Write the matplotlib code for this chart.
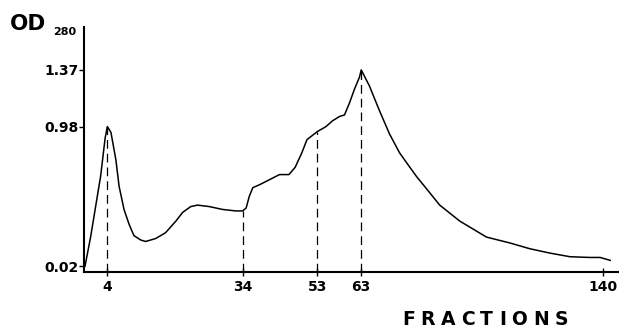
import matplotlib
matplotlib.use("Agg")
import matplotlib.pyplot as plt
import numpy as np

# elution profile
fractions = [0.0, 1.0, 1.9, 2.8, 3.6, 4.0, 4.8, 5.9, 6.6, 7.7, 8.8, 9.9, 11.4, 12.5,
             14.7, 16.9, 19.2, 20.7, 22.5, 24.0, 26.6, 29.6, 32.5, 34.0, 34.9, 35.7,
             36.6, 38.3, 40.5, 43.4, 45.8, 47.4, 49.1, 50.4, 53.0, 55.0, 56.5, 58.1,
             59.2, 60.3, 61.5, 62.6, 63.0, 65.6, 68.8, 72.0, 75.2, 78.0, 80.5, 83.7,
             88.0, 94.4, 102.9, 110.3, 116.7, 123.1, 129.5, 135.9, 139.1, 142.3]
od280 = [0.02, 0.22, 0.43, 0.64, 0.90, 0.98, 0.94, 0.75, 0.57, 0.41, 0.31, 0.23, 0.20, 0.19,
         0.21, 0.25, 0.33, 0.39, 0.43, 0.44, 0.43, 0.41, 0.40, 0.40, 0.42, 0.50,
         0.56, 0.58, 0.61, 0.65, 0.65, 0.70, 0.80, 0.89, 0.945, 0.98, 1.02, 1.05,
         1.06, 1.14, 1.24, 1.32, 1.37, 1.26, 1.09, 0.93, 0.80, 0.715, 0.64, 0.555,
         0.44, 0.33, 0.22, 0.18, 0.14, 0.11, 0.085, 0.08, 0.08, 0.06]

marked_fractions = [4, 34, 53, 63]
x_ticks = [4, 34, 53, 63, 140]
y_ticks = [0.02, 0.98, 1.37]
y_tick_labels = ["0.02", "0.98", "1.37"]

# the original fraction axis is not evenly spaced: piecewise linear scale
knot_frac = [-5, 0, 4, 34, 53, 63, 140, 160]
knot_pos = [58.1, 86, 108.3, 243.3, 317.7, 361.7, 603, 665.7]

def fwd(x):
    return np.interp(x, knot_frac, knot_pos)

def inv(p):
    return np.interp(p, knot_pos, knot_frac)

W, H = 619, 328
fig = plt.figure(figsize=(W / 100, H / 100), dpi=100)
ax = fig.add_axes([84 / W, 1 - 272 / H, 1 - 84 / W, (272 - 27) / H])
ax.set_xscale("function", functions=(fwd, inv))

ax.plot(fractions, od280, color="black", lw=1.1)

ymin = -0.02
for f in marked_fractions:
    ax.vlines(f, ymin, np.interp(f, fractions, od280), colors="black",
              linestyles=(0, (7, 4)), lw=0.9)

ax.set_xlim(-0.18, 145.1)
ax.set_ylim(ymin, 1.665)

ax.spines["top"].set_visible(False)
ax.spines["right"].set_visible(False)
ax.spines["left"].set_linewidth(1.5)
ax.spines["bottom"].set_linewidth(1.5)

ax.set_xticks(x_ticks)
ax.set_xticklabels([str(t) for t in x_ticks])
ax.set_yticks(y_ticks)
ax.set_yticklabels(y_tick_labels)
ax.xaxis.set_minor_locator(matplotlib.ticker.NullLocator())
ax.tick_params(axis="x", direction="inout", length=6, width=1, pad=2.5, labelsize=10)
ax.tick_params(axis="y", direction="out", length=3.5, width=1, pad=0.5, labelsize=10)
for lab in ax.get_xticklabels() + ax.get_yticklabels():
    lab.set_fontweight("bold")
    lab.set_family("DejaVu Sans")

# axis titles
fig.text(10 / W, 1 - 30 / H, "OD", fontsize=15.5, fontweight="bold", ha="left", va="baseline")
fig.text(53 / W, 1 - 35 / H, "280", fontsize=8, fontweight="bold", ha="left", va="baseline")

# letter-spaced "FRACTIONS"
renderer = fig.canvas.get_renderer()
word = "FRACTIONS"
letters = [fig.text(0, 1 - 325 / H, ch, fontsize=13.5, fontweight="bold",
                    ha="left", va="baseline") for ch in word]
widths = [t.get_window_extent(renderer).width for t in letters]
gap = (166 - sum(widths)) / (len(word) - 1)
x = 402
for t, w in zip(letters, widths):
    t.set_x(x / W)
    x += w + gap

fig.savefig("out.png", dpi=100)
